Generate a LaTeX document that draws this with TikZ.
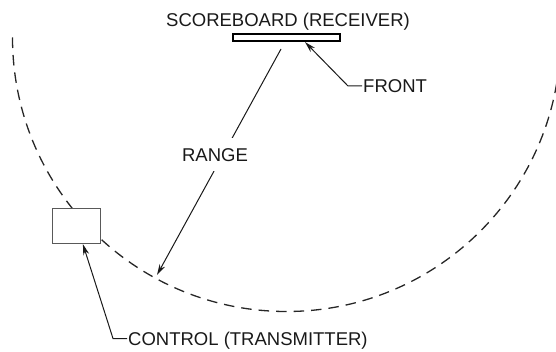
\documentclass[tikz,border=0pt]{standalone}
\usepackage{fontspec}
\setmainfont{Liberation Sans}
\usetikzlibrary{positioning,calc,arrows.meta}

\tikzset{
  txt/.style={font=\fontsize{18.5}{22}\selectfont, text=black!90, inner sep=1pt,
    text height=13.3pt, text depth=0pt},
  leader/.style={line width=1pt, draw=black!90, -{Stealth[length=11pt,width=6pt]}},
  rangeline/.style={line width=1.3pt, draw=black!85, dash pattern=on 10.5pt off 7pt},
}

\begin{document}
\begin{tikzpicture}[x=1pt,y=1pt]
\useasboundingbox (0,0) rectangle (556,351);
\clip (0,0) rectangle (556,351);

% range circle round the scoreboard
\coordinate (ctr) at (286.5,313.5);
\draw[rangeline] ($(ctr)+(180:274)$) arc[start angle=180, end angle=360, radius=274];

\node[draw, line width=2.2pt, fill=white, minimum width=107pt, minimum height=7pt, inner sep=0] (board) at (ctr) {};
\node[txt] (boardlbl) at (288,331.5) {SCOREBOARD (RECEIVER)};

\node[draw=black!65, line width=1.2pt, fill=white, minimum width=48pt, minimum height=35pt, inner sep=0] (ctrl) at (76.5,125) {};
\node[txt, anchor=west] (ctrllbl) at (127,12.5) {CONTROL (TRANSMITTER)};
\node[txt, anchor=west] (front) at (362,265) {FRONT};

\coordinate (rstart) at (281,302);
\coordinate (rim) at (157,76);
\draw[leader] (rstart) -- (rim);
\node[txt, fill=white, inner xsep=2pt, inner ysep=10pt] (range) at (215,196.5) {RANGE};

\draw[leader] (front.west) -- ++(-14,0) -- ($(board.south west)!0.67!(board.south east)$);
\draw[leader] (ctrllbl.west) -- ++(-14,0) -- ($(ctrl.south west)!0.63!(ctrl.south east)$);
\end{tikzpicture}
\end{document}
